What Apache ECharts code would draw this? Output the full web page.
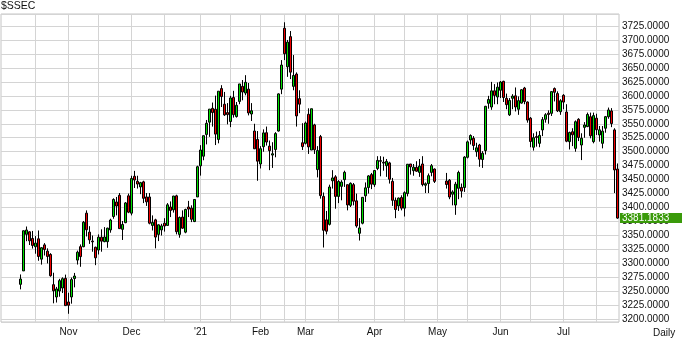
<!DOCTYPE html>
<html><head><meta charset="utf-8">
<script src="https://cdn.jsdelivr.net/npm/echarts@6/dist/echarts.min.js"></script>
<style>html,body{margin:0;padding:0;background:#fff}#c{width:684px;height:340px}</style>
</head><body><div id="c"></div>
<script>
const symbolName = '$SSEC';
const periodName = 'Daily';
// trading days per month (shown as candles)
const tradingDays = {
  '2020-10': [9,12,13,14,15,16,19,20,21,22,23,26,27,28,29,30],
  '2020-11': [2,3,4,5,6,9,10,11,12,13,16,17,18,19,20,23,24,25,26,27,30],
  '2020-12': [1,2,3,4,7,8,9,10,11,14,15,16,17,18,21,22,23,24,25,28,29,30,31],
  '2021-01': [4,5,6,7,8,11,12,13,14,15,18,19,20,21,22,25,26,27,28,29],
  '2021-02': [1,2,3,4,5,8,9,10,18,19,22,23,24,25,26],
  '2021-03': [1,2,3,4,5,8,9,10,11,12,15,16,17,18,19,22,23,24,25,26,29,30,31],
  '2021-04': [1,2,6,7,8,9,12,13,14,15,16,19,20,21,22,23,26,27,28,29,30],
  '2021-05': [6,7,10,11,12,13,14,17,18,19,20,21,24,25,26,27,28,31],
  '2021-06': [1,2,3,4,7,8,9,10,11,15,16,17,18,21,22,23,24,25,28,29,30],
  '2021-07': [1,2,5,6,7,8,9,12,13,14,15,16,19,20,21,22,23,26,27]
};
// weekday slots without prices (left blank on the axis)
const blankDays = {
  '2020-10': [1,2,5,6,7,8],
  '2021-05': [3,4,5]
};
const monthNames = {'2020-11':'Nov','2020-12':'Dec','2021-01':"'21",'2021-02':'Feb','2021-03':'Mar','2021-04':'Apr','2021-05':'May','2021-06':'Jun','2021-07':'Jul'};

const openP = [
3262.6,3286.6,3352.1,3356.6,3344.7,3329.9,3344.1,3307.7,3333.2,3322.0,3316.0,3262.0,3240.0,3250.7,3256.0,3273.3,
3231.0,3240.0,3273.0,3306.0,3330.0,3330.0,3390.0,3356.0,3340.0,3329.0,3324.0,3347.0,3339.0,3339.0,3360.0,3384.0,3410.0,3422.0,3361.0,3373.0,3421.0,
3390.0,3456.0,3447.0,3437.0,3446.0,3419.0,3419.0,3368.0,3378.0,3352.0,3360.0,3372.0,3368.0,3401.0,3396.0,3421.0,3352.0,3383.0,3356.0,3401.0,3399.0,3375.0,3419.0,
3474.7,3492.0,3530.9,3552.9,3577.6,3576.0,3522.0,3613.0,3585.0,3570.0,3554.0,3597.0,3563.0,3590.0,3617.0,3605.0,3612.0,3567.5,3537.0,3522.0,
3478.0,3509.0,3534.0,3510.0,3494.0,3504.0,3537.0,3612.0,3721.0,3652.0,3706.0,3617.0,3639.0,3595.0,3516.0,
3515.0,3567.0,3503.0,3548.0,3468.0,3527.0,3420.0,3378.0,3370.0,3448.0,3455.0,3420.0,3438.0,3450.0,3441.0,3404.0,3441.0,3412.0,3354.0,3372.0,3421.0,3436.0,3459.0,
3441.0,3470.0,3484.0,3481.0,3475.0,3480.0,3447.0,3413.0,3403.0,3418.0,3399.0,3425.0,3478.0,3466.0,3472.0,3463.0,3478.0,3440.0,3443.0,3463.0,3469.0,
3447.5,3449.0,3424.0,3404.6,3434.5,3436.0,3436.0,3490.0,3521.0,3524.0,3500.0,3512.0,3486.0,3502.0,3586.6,3580.0,3609.0,3598.0,
3610.0,3626.0,3595.6,3566.0,3595.6,3600.0,3576.0,3587.0,3614.0,3589.0,3560.0,3508.0,3527.0,3515.0,3539.0,3558.0,3569.0,3568.7,3613.0,3604.0,3571.6,
3601.0,3571.0,3518.0,3535.8,3506.0,3558.0,3512.0,3543.6,3545.0,3562.6,3518.0,3560.0,3530.0,3515.0,3542.0,3562.6,3573.0,3539.0,3469.0
];
const highP = [
3280.3,3359.2,3366.1,3357.6,3358.2,3349.0,3359.0,3329.3,3336.4,3327.0,3318.4,3283.4,3258.0,3272.4,3275.1,3280.0,
3247.6,3274.7,3283.0,3323.0,3334.0,3376.0,3395.0,3366.7,3350.0,3330.0,3352.0,3361.1,3365.0,3364.0,3380.0,3416.6,3419.0,3426.0,3376.0,3410.0,3425.0,
3457.0,3465.7,3457.0,3446.0,3448.0,3426.0,3426.0,3386.0,3380.0,3370.0,3371.0,3381.0,3408.0,3411.0,3421.0,3423.0,3384.0,3395.0,3398.0,3412.0,3404.0,3414.0,3474.9,
3511.7,3528.7,3556.8,3576.2,3588.0,3600.4,3608.3,3619.1,3607.0,3587.0,3600.0,3609.0,3589.0,3621.3,3628.3,3637.0,3623.0,3587.0,3550.0,3537.0,
3510.0,3540.0,3545.0,3520.0,3517.0,3535.0,3604.5,3664.0,3731.7,3700.0,3716.0,3673.0,3642.0,3610.0,3551.0,
3554.0,3577.7,3577.0,3550.0,3510.0,3530.0,3427.0,3394.0,3441.0,3467.0,3458.0,3449.0,3449.0,3466.0,3441.0,3445.0,3444.0,3425.0,3381.0,3418.3,3445.0,3458.0,3462.0,
3467.0,3492.0,3492.0,3491.0,3487.0,3482.0,3453.0,3418.0,3418.0,3422.0,3429.0,3478.0,3478.0,3478.0,3483.0,3487.0,3492.0,3445.0,3461.0,3478.0,3470.0,
3462.0,3451.0,3431.0,3446.0,3466.0,3443.0,3492.0,3520.0,3531.0,3528.0,3516.0,3514.0,3501.0,3582.0,3600.0,3625.0,3621.0,3624.0,
3626.5,3627.0,3604.0,3596.0,3603.0,3615.0,3599.0,3612.0,3616.0,3590.0,3562.0,3533.0,3536.0,3537.0,3562.0,3569.0,3574.0,3608.0,3615.0,3608.0,3594.0,
3603.0,3585.0,3536.0,3542.0,3556.0,3560.0,3533.0,3553.0,3570.0,3570.0,3570.0,3568.0,3546.0,3546.0,3564.0,3579.0,3578.0,3542.0,3479.0
];
const lowP = [
3253.6,3286.6,3339.8,3333.0,3326.6,3317.4,3304.8,3297.9,3314.2,3300.0,3276.2,3228.6,3230.0,3240.4,3247.0,3224.0,
3209.9,3228.0,3257.2,3298.0,3294.0,3329.0,3348.3,3335.0,3321.0,3296.9,3316.0,3321.0,3338.0,3328.0,3355.0,3380.0,3386.0,3362.0,3342.0,3372.0,3390.0,
3386.0,3435.0,3434.0,3424.0,3408.0,3403.0,3370.0,3359.0,3327.0,3340.0,3350.0,3357.0,3368.0,3383.0,3391.0,3352.0,3346.0,3362.0,3354.0,3383.0,3374.0,3374.0,3419.0,
3457.2,3484.7,3513.1,3526.6,3544.9,3511.9,3515.0,3580.0,3564.0,3549.0,3544.0,3561.0,3561.0,3585.0,3592.0,3601.0,3565.0,3555.0,3505.0,3448.0,
3470.0,3500.0,3511.0,3467.0,3471.0,3490.0,3536.0,3603.0,3664.0,3634.0,3630.0,3610.0,3545.0,3569.0,3503.0,
3513.0,3496.0,3503.0,3496.0,3454.0,3416.0,3328.5,3352.0,3368.0,3434.0,3398.0,3408.0,3413.0,3437.0,3395.0,3401.0,3404.0,3364.0,3341.0,3370.0,3410.0,3425.0,3433.0,
3437.0,3467.0,3456.0,3466.0,3455.0,3443.0,3403.0,3381.0,3394.0,3395.0,3384.0,3420.0,3459.0,3457.0,3464.0,3455.0,3438.0,3426.0,3426.0,3456.0,3444.0,
3434.0,3415.0,3404.0,3387.0,3415.0,3418.0,3428.0,3488.0,3513.0,3503.0,3491.0,3473.0,3471.0,3495.0,3577.0,3575.0,3585.0,3585.0,
3596.0,3589.0,3576.0,3564.0,3576.0,3572.0,3566.0,3586.0,3585.0,3552.0,3508.0,3502.0,3509.0,3508.0,3528.0,3552.0,3550.0,3564.0,3590.0,3571.0,3566.0,
3576.0,3517.0,3504.0,3510.0,3500.0,3519.0,3485.0,3525.0,3544.0,3524.0,3515.0,3530.0,3518.0,3506.0,3534.0,3559.0,3544.0,3426.0,3380.0
];
const closeP = [
3272.1,3358.5,3359.8,3340.5,3332.2,3336.4,3312.5,3328.1,3325.0,3312.5,3278.0,3251.1,3254.3,3269.2,3272.7,3224.5,
3225.1,3271.1,3277.4,3320.1,3312.2,3373.7,3360.2,3342.2,3338.7,3310.1,3347.0,3339.9,3347.3,3363.1,3377.7,3414.5,3402.8,3362.3,3369.7,3408.3,3391.8,
3451.9,3449.4,3442.1,3444.6,3416.6,3410.2,3372.0,3373.3,3347.2,3369.1,3367.2,3367.0,3404.9,3394.9,3420.6,3356.8,3382.3,3363.1,3396.6,3397.3,3379.0,3414.5,3473.1,
3503.0,3528.7,3550.9,3576.2,3570.1,3531.5,3608.3,3598.7,3565.9,3566.4,3596.2,3566.3,3583.1,3621.3,3606.8,3624.2,3569.4,3573.3,3505.2,3483.1,
3505.3,3533.7,3517.3,3501.9,3496.3,3532.4,3603.5,3655.1,3675.4,3696.2,3642.4,3636.4,3564.1,3585.1,3509.1,
3551.4,3508.6,3576.9,3503.5,3502.0,3421.4,3359.3,3357.7,3436.8,3453.1,3420.0,3446.7,3445.6,3463.1,3404.7,3443.4,3411.5,3367.1,3363.6,3418.3,3435.3,3456.7,3441.9,
3466.3,3484.4,3482.9,3479.6,3482.6,3450.7,3413.0,3396.5,3417.0,3399.0,3426.6,3477.6,3472.9,3472.3,3465.1,3474.2,3441.2,3442.6,3457.1,3474.9,3446.9,
3441.3,3418.9,3428.0,3441.9,3462.8,3429.5,3490.4,3517.6,3529.0,3511.0,3506.9,3486.6,3497.3,3581.3,3593.4,3608.9,3600.8,3615.5,
3624.7,3597.1,3584.2,3591.8,3599.5,3580.1,3591.4,3610.9,3589.8,3556.6,3518.3,3525.1,3525.6,3529.2,3557.4,3566.2,3566.7,3607.6,3606.4,3573.2,3591.2,
3588.8,3518.8,3534.3,3530.3,3553.7,3525.5,3524.1,3547.8,3566.6,3528.5,3564.6,3539.3,3539.1,3536.8,3562.7,3574.7,3550.4,3467.4,3381.1833
];

// build the axis categories: trading days plus blank weekday slots, in date order
const pad = n => (n < 10 ? '0' : '') + n;
const slots = [];
Object.keys(tradingDays).forEach(m => {
  const days = (tradingDays[m] || []).map(d => ({d, trade: true}))
    .concat((blankDays[m] || []).map(d => ({d, trade: false})));
  days.sort((a, b) => a.d - b.d);
  days.forEach(o => slots.push({date: m + '-' + pad(o.d), trade: o.trade}));
});
const categories = slots.map(s => s.date);
let k = 0;
const candleData = slots.map(s => {
  if (!s.trade) return '-';
  const v = [openP[k], closeP[k], lowP[k], highP[k]];
  k++;
  return v;
});
const lastClose = closeP[closeP.length - 1];

// first slot of each month -> label; first slot on/after 1st and 16th -> grid line
const labelIdx = {}, gridIdx = {};
const seenMonth = {}, seenHalf = {};
categories.forEach((c, i) => {
  const m = c.slice(0, 7), d = +c.slice(8);
  if (!seenMonth[m]) { seenMonth[m] = 1; if (monthNames[m]) labelIdx[i] = monthNames[m]; }
  const h = m + (d >= 16 ? 'b' : 'a');
  if (!seenHalf[h]) { seenHalf[h] = 1; if (i > 0) gridIdx[i] = 1; }
});

const FONT = 'Liberation Sans, Arial, sans-serif';
const chart = echarts.init(document.getElementById('c'), null, {renderer: 'canvas'});
chart.setOption({
  animation: false,
  backgroundColor: '#ffffff',
  title: {
    text: symbolName, left: 1, top: 1, padding: 0,
    textStyle: {fontSize: 10.5, fontWeight: 'normal', color: '#111', fontFamily: FONT}
  },
  grid: {left: 1, right: 65, top: 14, bottom: 18, show: true, borderColor: '#c4c4c4', borderWidth: 1},
  xAxis: {
    type: 'category', data: categories, boundaryGap: true,
    axisLine: {show: false}, axisTick: {show: false},
    axisLabel: {
      interval: (i) => labelIdx[i] !== undefined,
      formatter: (v, i) => labelIdx[i] || '',
      fontSize: 10, color: '#111', fontFamily: FONT, margin: 5
    },
    splitLine: {show: true, alignWithLabel: true, interval: (i) => !!gridIdx[i], lineStyle: {color: '#d4d4d4', width: 1}}
  },
  yAxis: {
    type: 'value', position: 'right', min: 3195.17, max: 3746.5,
    minInterval: 25, maxInterval: 25, splitNumber: 22,
    axisLine: {show: false}, axisTick: {show: false},
    axisLabel: {formatter: v => v.toFixed(4), showMinLabel: false, showMaxLabel: false, fontSize: 10, color: '#111', fontFamily: FONT, margin: 3},
    splitLine: {show: true, lineStyle: {color: '#d4d4d4', width: 1}}
  },
  series: [{
    type: 'candlestick', data: candleData, barWidth: 2,
    itemStyle: {color: '#00e000', color0: '#ee0000', borderColor: '#000', borderColor0: '#000', borderWidth: 1}
  }]
});

// last-price tag on the right axis, positioned through the value axis
const yLast = chart.convertToPixel({yAxisIndex: 0}, lastClose);
chart.setOption({
  graphic: [
    {type: 'text', left: 653, top: 328, style: {text: periodName, font: '10px ' + FONT, fill: '#111'}},
    {type: 'rect', shape: {x: 620, y: Math.round(yLast) - 5, width: 62, height: 10}, style: {fill: '#3a9a0a'}, z: 10},
    {type: 'text', x: 622, y: Math.round(yLast), style: {text: lastClose.toFixed(4), font: '10px ' + FONT, fill: '#ffffff', verticalAlign: 'middle'}, z: 11}
  ]
});
</script></body></html>
